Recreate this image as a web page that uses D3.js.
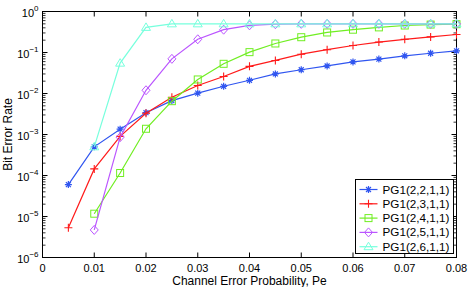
<!DOCTYPE html>
<html>
<head>
<meta charset="utf-8">
<script src="https://cdn.jsdelivr.net/npm/d3@7"></script>
<style>
  body { margin: 0; background: #fff; }
  text { font-family: "Liberation Sans", Arial, sans-serif; }
</style>
</head>
<body>
<svg id="chart" width="469" height="287"></svg>
<script>
// channel error probabilities
const pe = [0.005, 0.01, 0.015, 0.02, 0.025, 0.03, 0.035, 0.04, 0.045, 0.05, 0.055, 0.06, 0.065, 0.07, 0.075, 0.08]

const ber22 = [6e-5, 5e-4, 1.35e-3, 3.4e-3, 6.7e-3, 1.02e-2, 1.5e-2, 2.1e-2, 3.0e-2, 3.8e-2, 4.7e-2, 5.9e-2, 6.9e-2, 8.3e-2, 9.6e-2, 0.11]
const ber23 = [5.3e-6, 1.45e-4, 9e-4, 3.3e-3, 8.1e-3, 1.57e-2, 2.6e-2, 4.6e-2, 6.4e-2, 9.1e-2, 0.117, 0.148, 0.18, 0.21, 0.24, 0.275]
const ber24 = [null, 1.17e-5, 1.15e-4, 1.38e-3, 6.5e-3, 2.2e-2, 5.3e-2, 0.102, 0.166, 0.236, 0.308, 0.36, 0.41, 0.455, 0.48, 0.49]
const ber25 = [null, 4.7e-6, 8.6e-4, 1.2e-2, 7.0e-2, 0.21, 0.36, 0.46, 0.49, 0.5, 0.5, 0.5, 0.5, 0.5, 0.5, 0.5]
const ber26 = [null, 5e-4, 5.5e-2, 0.41, 0.5, 0.5, 0.5, 0.5, 0.5, 0.5, 0.5, 0.5, 0.5, 0.5, 0.5, 0.5]

const seriesNames = ['PG1(2,2,1,1)', 'PG1(2,3,1,1)', 'PG1(2,4,1,1)', 'PG1(2,5,1,1)', 'PG1(2,6,1,1)']
const seriesValues = [ber22, ber23, ber24, ber25, ber26]
const colors = ['#2f55f0', '#ff1a1a', '#70ee22', '#bb55ff', '#77ffdd']
const markers = ['star', 'plus', 'square', 'diamond', 'triangle']

const xTicks = [0, 0.01, 0.02, 0.03, 0.04, 0.05, 0.06, 0.07, 0.08]
const xTickLabels = ['0', '0.01', '0.02', '0.03', '0.04', '0.05', '0.06', '0.07', '0.08']
const yExponents = [0, -1, -2, -3, -4, -5, -6]

const svg = d3.select('#chart')
const pLeft = 42.5, pRight = 456.5, pTop = 11.5, pBottom = 257.5

const x = d3.scaleLinear().domain([0, 0.08]).range([pLeft, pRight])
const y = d3.scaleLog().domain([1e-6, 1]).range([pBottom, pTop])

// minor/major ticks, all pointing inward
let g = svg.append('g')
let minor = []
for (let e = -6; e < 0; e++) {
    for (let k = 2; k <= 9; k++) minor.push(k * Math.pow(10, e))
}
minor.forEach(v => {
    g.append('line').attr('x1', pLeft).attr('x2', pLeft + 3).attr('y1', y(v)).attr('y2', y(v)).attr('stroke', '#000').attr('stroke-width', 0.8)
    g.append('line').attr('x1', pRight).attr('x2', pRight - 3).attr('y1', y(v)).attr('y2', y(v)).attr('stroke', '#000').attr('stroke-width', 0.8)
})
yExponents.forEach(e => {
    let v = Math.pow(10, e)
    g.append('line').attr('x1', pLeft).attr('x2', pLeft + 5).attr('y1', y(v)).attr('y2', y(v)).attr('stroke', '#000')
    g.append('line').attr('x1', pRight).attr('x2', pRight - 5).attr('y1', y(v)).attr('y2', y(v)).attr('stroke', '#000')
    let t = g.append('text')
        .attr('x', pLeft - 4)
        .attr('y', y(v) + 5)
        .attr('text-anchor', 'end')
        .attr('font-size', 11)
    t.append('tspan').text('10')
    t.append('tspan').attr('dy', -6).attr('font-size', 8).text(e == 0 ? '0' : '\u2212' + (-e))
})
xTicks.forEach((v, i) => {
    g.append('line').attr('x1', x(v)).attr('x2', x(v)).attr('y1', pBottom).attr('y2', pBottom - 5).attr('stroke', '#000')
    g.append('line').attr('x1', x(v)).attr('x2', x(v)).attr('y1', pTop).attr('y2', pTop + 5).attr('stroke', '#000')
    g.append('text')
        .attr('x', x(v))
        .attr('y', pBottom + 14)
        .attr('text-anchor', 'middle')
        .attr('font-size', 11)
        .text(xTickLabels[i])
})

svg.append('rect')
    .attr('x', pLeft).attr('y', pTop)
    .attr('width', pRight - pLeft).attr('height', pBottom - pTop)
    .attr('fill', 'none').attr('stroke', '#000').attr('stroke-width', 1)

svg.append('text')
    .attr('x', (pLeft + pRight) / 2)
    .attr('y', 285)
    .attr('text-anchor', 'middle')
    .attr('font-size', 12)
    .text('Channel Error Probability, Pe')

svg.append('text')
    .attr('transform', 'translate(12,' + ((pTop + pBottom) / 2) + ') rotate(-90)')
    .attr('text-anchor', 'middle')
    .attr('font-size', 12)
    .text('Bit Error Rate')

function drawMarker(sel, type, cx, cy, color) {
    let s = 3.5
    if (type == 'star') {
        let p = ''
        for (let a = 0; a < 4; a++) {
            let ang = a * Math.PI / 4
            let dx = Math.cos(ang) * s, dy = Math.sin(ang) * s
            p += 'M ' + (cx - dx) + ' ' + (cy - dy) + ' L ' + (cx + dx) + ' ' + (cy + dy) + ' '
        }
        sel.append('path').attr('d', p).attr('stroke', color).attr('stroke-width', 1.2).attr('fill', 'none')
    } else if (type == 'plus') {
        sel.append('path')
            .attr('d', 'M ' + (cx - s - 0.5) + ' ' + cy + ' L ' + (cx + s + 0.5) + ' ' + cy + ' M ' + cx + ' ' + (cy - s - 0.5) + ' L ' + cx + ' ' + (cy + s + 0.5))
            .attr('stroke', color).attr('stroke-width', 1.1).attr('fill', 'none')
    } else if (type == 'square') {
        sel.append('rect').attr('x', cx - 3.5).attr('y', cy - 3.5).attr('width', 7).attr('height', 7)
            .attr('stroke', color).attr('stroke-width', 1).attr('fill', 'none')
    } else if (type == 'diamond') {
        sel.append('path')
            .attr('d', 'M ' + cx + ' ' + (cy - 4.5) + ' L ' + (cx + 4) + ' ' + cy + ' L ' + cx + ' ' + (cy + 4.5) + ' L ' + (cx - 4) + ' ' + cy + ' Z')
            .attr('stroke', color).attr('stroke-width', 1).attr('fill', 'none')
    } else if (type == 'triangle') {
        sel.append('path')
            .attr('d', 'M ' + cx + ' ' + (cy - 4.5) + ' L ' + (cx + 4.5) + ' ' + (cy + 3) + ' L ' + (cx - 4.5) + ' ' + (cy + 3) + ' Z')
            .attr('stroke', color).attr('stroke-width', 1).attr('fill', 'none')
    }
}

const line = d3.line()
    .defined(d => d[1] != null)
    .x(d => x(d[0]))
    .y(d => y(d[1]))

seriesValues.forEach((vals, i) => {
    let pts = pe.map((p, j) => [p, vals[j]])
    let sg = svg.append('g')
    sg.append('path')
        .attr('d', line(pts))
        .attr('fill', 'none')
        .attr('stroke', colors[i])
        .attr('stroke-width', 1.2)
    pts.filter(d => d[1] != null).forEach(d => drawMarker(sg, markers[i], x(d[0]), y(d[1]), colors[i]))
})

// legend
const lx = 355.5, ly = 179.5, lw = 98, lh = 74
let lg = svg.append('g')
lg.append('rect').attr('x', lx).attr('y', ly).attr('width', lw).attr('height', lh)
    .attr('fill', '#fff').attr('stroke', '#000')
seriesNames.forEach((name, i) => {
    let cy = ly + 10 + i * 14.3
    lg.append('line').attr('x1', lx + 4).attr('x2', lx + 22).attr('y1', cy).attr('y2', cy)
        .attr('stroke', colors[i]).attr('stroke-width', 1.2)
    drawMarker(lg, markers[i], lx + 13, cy, colors[i])
    lg.append('text')
        .attr('x', lx + 27)
        .attr('y', cy + 4)
        .attr('font-size', 11.7)
        .text(name)
})
</script>
</body>
</html>
